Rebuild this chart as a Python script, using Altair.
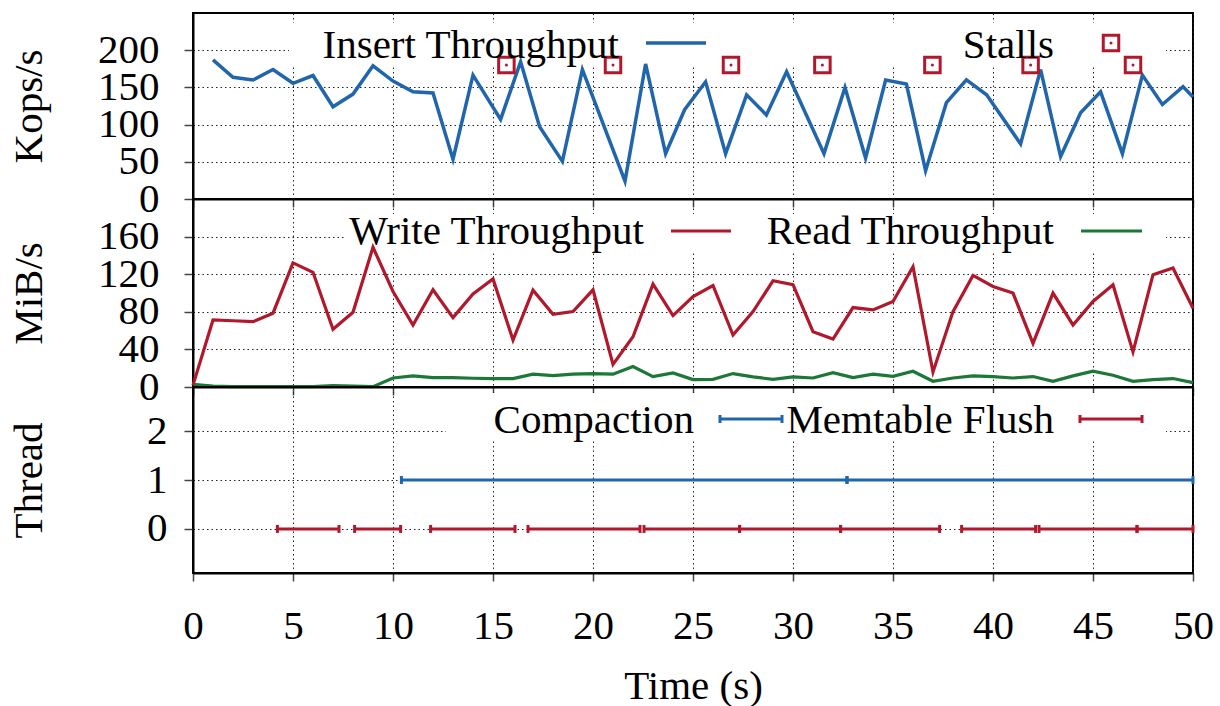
import altair as alt
import pandas as pd

FONT = "Liberation Serif"
BLUE = "#2166ac"
RED = "#b2182b"
GREEN = "#1b7837"

# ---- Insert throughput (Kops/s) ----
insert_t = [1, 2, 3, 4, 5, 6, 7, 8, 9, 10, 11, 12, 13, 14, 15.38, 16.38, 17.33,
            18.47, 19.47, 21.6, 22.63, 23.63, 24.58, 25.63, 26.63, 27.68, 28.67,
            29.68, 31.55, 32.6, 33.63, 34.63, 35.67, 36.63, 37.67, 38.67, 39.68,
            41.38, 42.38, 43.38, 44.38, 45.38, 46.47, 47.47, 48.47, 49.5, 50]
insert_kops = [187, 163.5, 160, 174, 155.5, 166, 124, 141, 179, 158.5, 144, 142.5,
               53.5, 166.5, 107, 184.5, 97, 50.5, 174, 24, 181.5, 61, 120, 157.5,
               61, 140, 113, 171, 61, 150, 55, 160, 154.5, 38, 129.5, 160, 140,
               74, 174, 57, 116, 144, 61, 166.5, 127, 151, 137]

# ---- Write stalls ----
stall_t = [15.67, 21.0, 26.9, 31.47, 36.97, 41.88, 47.0]
stall_kops = [180, 180, 180, 180, 180, 180, 180]

# ---- Disk I/O (MiB/s), one sample per second ----
io_t = list(range(0, 51))
write_mib = [2, 71.3, 70.5, 69.5, 78.5, 132, 122, 61.4, 79.5, 148.7, 101.6, 66,
             103.4, 73.8, 99, 115, 50, 103, 77.4, 80.2, 103.4, 24, 53.5, 109.5,
             76, 96.3, 108, 55.3, 80.2, 113, 108.8, 58.8, 51, 84.5, 82, 91, 128,
             16, 80.2, 118.7, 107, 99.9, 46.4, 99.9, 66, 91, 108.8, 37.4, 119.5,
             126.6, 83.8]
read_mib = [2.9, 1, 0.5, 0.3, 0.3, 0.3, 0.3, 1.5, 1, 0.3, 9.6, 11.8, 10, 10, 9.3,
            9, 9, 13.6, 12.2, 13.6, 14.3, 13.6, 21.8, 11.1, 15, 7.9, 8.2, 14.3,
            10.7, 8.2, 10.7, 9.6, 15.3, 10, 13.6, 11.4, 16.8, 6.1, 9.6, 11.8,
            11.1, 9.6, 11.1, 6.1, 11.8, 16.8, 12.5, 6.1, 7.9, 9, 4.7]

# ---- Background threads: busy intervals (s) ----
flush_start = [4.22, 8.08, 11.88, 16.75, 22.55, 27.33, 32.38, 38.43, 42.3, 47.2]
flush_end = [7.3, 10.38, 16.1, 22.35, 27.33, 32.38, 37.33, 42.13, 47.2, 50]
flush_thread = [0] * len(flush_start)
compaction_start = [10.42, 32.7]
compaction_end = [32.7, 50]
compaction_thread = [1, 1]

W = 1000
H_TOP, H_MID, H_BOT = 186, 188, 186
FS = 41

x_scale = alt.Scale(domain=[0, 50], nice=False, zero=False)
x_ticks = list(range(0, 51, 5))
ONE = alt.Data(values=[{"k": 0}])


def x_axis(show_labels):
    if show_labels:
        return alt.Axis(values=x_ticks, title="Time (s)", labelPadding=57,
                        labelBaseline="alphabetic", labelFlush=False,
                        labelOverlap=False, titleX=W / 2, titleY=125,
                        titleAlign="center", titleBaseline="alphabetic")
    return alt.Axis(values=x_ticks, title=None, labels=False)


def y_axis(title, values, h, pad):
    return alt.Axis(values=values, title=title, titleAngle=270, titleX=-152,
                    titleY=h / 2, titleAlign="center", titleBaseline="alphabetic",
                    labelPadding=pad, labelOverlap=False, labelFlush=False,
                    tickSize=9)


def key_box(x1, x2, y1, y2):
    return alt.Chart(ONE).mark_rect(color="white", opacity=1).encode(
        x=alt.value(x1), x2=alt.value(x2), y=alt.value(y1), y2=alt.value(y2))


def key_text(label, x, y):
    return alt.Chart(ONE).mark_text(
        text=label, align="right", baseline="alphabetic", font=FONT,
        fontSize=FS, color="black").encode(x=alt.value(x), y=alt.value(y))


def key_line(color, x1, x2, y, width=3.5):
    return alt.Chart(ONE).mark_rule(color=color, strokeWidth=width).encode(
        x=alt.value(x1), x2=alt.value(x2), y=alt.value(y))


def key_cap(color, x, y):
    return alt.Chart(ONE).mark_tick(color=color, orient="vertical", size=8,
                                    thickness=3, opacity=1).encode(
        x=alt.value(x), y=alt.value(y))


# ---- Top panel: insert throughput and stalls ----
insert_df = pd.DataFrame({"t": insert_t, "v": insert_kops})
stall_df = pd.DataFrame({"t": stall_t, "v": stall_kops})
y_top = alt.Scale(domain=[0, 250], nice=False, zero=False)

insert_line = alt.Chart(insert_df).mark_line(color=BLUE, strokeWidth=3.5).encode(
    x=alt.X("t:Q", scale=x_scale, axis=x_axis(False)),
    y=alt.Y("v:Q", scale=y_top,
            axis=y_axis("Kops/s", [0, 50, 100, 150, 200], H_TOP, 25)))
stall_sq = alt.Chart(stall_df).mark_point(
    shape="square", filled=False, size=240, strokeWidth=3, color=RED,
    opacity=1).encode(x="t:Q", y="v:Q")
stall_dot = alt.Chart(stall_df).mark_circle(size=9, color=RED, opacity=1).encode(
    x="t:Q", y="v:Q")

top = alt.layer(
    key_box(96, 973, 10, 54),
    insert_line, stall_sq, stall_dot,
    key_text("Insert Throughput", 426, 45),
    key_line(BLUE, 453, 513, 30),
    key_text("Stalls", 861, 45),
    alt.Chart(ONE).mark_point(shape="square", filled=False, size=240,
                              strokeWidth=3, color=RED, opacity=1).encode(
        x=alt.value(918), y=alt.value(30)),
    alt.Chart(ONE).mark_circle(size=9, color=RED, opacity=1).encode(
        x=alt.value(918), y=alt.value(30)),
).properties(width=W, height=H_TOP)

# ---- Middle panel: write / read throughput ----
io_df = pd.DataFrame({"t": io_t, "write": write_mib, "read": read_mib})
y_mid = alt.Scale(domain=[0, 200], nice=False, zero=False)

write_line = alt.Chart(io_df).mark_line(color=RED, strokeWidth=3.2).encode(
    x=alt.X("t:Q", scale=x_scale, axis=x_axis(False)),
    y=alt.Y("write:Q", scale=y_mid,
            axis=y_axis("MiB/s", [0, 40, 80, 120, 160], H_MID, 25)))
read_line = alt.Chart(io_df).mark_line(color=GREEN, strokeWidth=3.2).encode(
    x="t:Q", y="read:Q")

mid = alt.layer(
    key_box(153, 973, 15, 53),
    read_line, write_line,
    key_text("Write Throughput", 451, 45),
    key_line(RED, 478, 538, 32, 3.2),
    key_text("Read Throughput", 861, 45),
    key_line(GREEN, 888, 949, 32, 3.2),
).properties(width=W, height=H_MID)

# ---- Bottom panel: flush and compaction threads ----
flush_df = pd.DataFrame({"start": flush_start, "end": flush_end,
                         "thread": flush_thread})
comp_df = pd.DataFrame({"start": compaction_start, "end": compaction_end,
                        "thread": compaction_thread})
y_bot = alt.Scale(domain=[-0.9, 2.9], nice=False, zero=False)


def spans(df, color, with_axes):
    if with_axes:
        x_enc = alt.X("start:Q", scale=x_scale, axis=x_axis(True))
        y_enc = alt.Y("thread:Q", scale=y_bot,
                      axis=y_axis("Thread", [0, 1, 2], H_BOT, 17))
    else:
        x_enc = alt.X("start:Q")
        y_enc = alt.Y("thread:Q")
    bar = alt.Chart(df).mark_rule(color=color, strokeWidth=3).encode(
        x=x_enc, x2="end:Q", y=y_enc)
    caps = alt.Chart(df).transform_fold(["start", "end"], as_=["edge", "pos"]) \
        .mark_tick(color=color, orient="vertical", size=8, thickness=3,
                   opacity=1).encode(x="pos:Q", y="thread:Q")
    return bar, caps


flush_bar, flush_caps = spans(flush_df, RED, True)
comp_bar, comp_caps = spans(comp_df, BLUE, False)

bot = alt.layer(
    key_box(253, 973, 6, 54),
    flush_bar, flush_caps, comp_bar, comp_caps,
    key_text("Compaction", 501, 46),
    key_line(BLUE, 527, 589, 32, 3),
    key_cap(BLUE, 527, 32), key_cap(BLUE, 589, 32),
    key_text("Memtable Flush", 861, 46),
    key_line(RED, 887, 949, 32, 3),
    key_cap(RED, 887, 32), key_cap(RED, 949, 32),
).properties(width=W, height=H_BOT)

chart = alt.vconcat(top, mid, bot, spacing=0, bounds="flush").properties(
    padding={"left": 7, "top": 12, "right": 0, "bottom": 0}
).configure_view(
    stroke="black", strokeWidth=2
).configure_axis(
    domainColor="black", domainWidth=2, tickColor="#444", tickWidth=1.5,
    tickSize=8, labelFont=FONT, labelFontSize=FS, labelColor="black",
    titleFont=FONT, titleFontSize=FS, titleFontWeight="normal",
    titleColor="black", gridColor="#222", gridDash=[1.5, 3], gridWidth=1,
    gridOpacity=1
).configure_text(font=FONT)

chart.save("out.html", embed_options={"renderer": "svg", "actions": False})
